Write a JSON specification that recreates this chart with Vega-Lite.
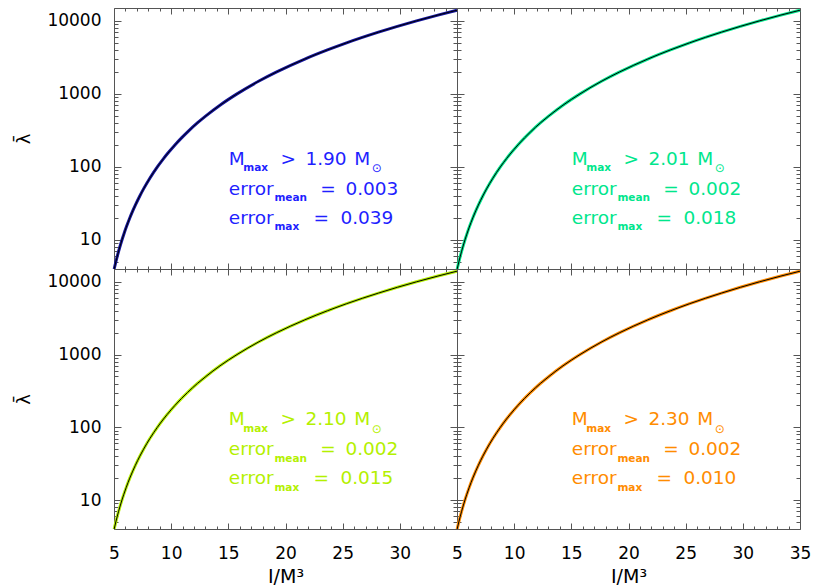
{
  "$schema": "https://vega.github.io/schema/vega-lite/v6.json",
  "padding": {"left": 15, "top": 4, "right": 0, "bottom": 0},
  "background": "white",
  "columns": 2,
  "spacing": 0,
  "bounds": "flush",
  "config": {
    "view": {"stroke": null},
    "axis": {
      "grid": false,
      "labelFont": "DejaVu Sans",
      "labelFontSize": 17,
      "labelColor": "#000000",
      "labelFlush": false,
      "labelOverlap": false,
      "domainColor": "#555555",
      "tickColor": "#555555",
      "titleFont": "DejaVu Sans",
      "titleFontWeight": "normal",
      "titleColor": "#000000"
    }
  },
  "datasets": {
    "curve": [
      {"I": 5.015, "lambda": 4},
      {"I": 5.16, "lambda": 5},
      {"I": 5.288, "lambda": 6},
      {"I": 5.403, "lambda": 7},
      {"I": 5.508, "lambda": 8},
      {"I": 5.695, "lambda": 10},
      {"I": 5.86, "lambda": 12},
      {"I": 6.076, "lambda": 15},
      {"I": 6.38, "lambda": 20},
      {"I": 6.639, "lambda": 25},
      {"I": 6.867, "lambda": 30},
      {"I": 7.256, "lambda": 40},
      {"I": 7.586, "lambda": 50},
      {"I": 8.135, "lambda": 70},
      {"I": 8.792, "lambda": 100},
      {"I": 9.332, "lambda": 130},
      {"I": 9.648, "lambda": 150},
      {"I": 10.33, "lambda": 200},
      {"I": 10.91, "lambda": 250},
      {"I": 11.42, "lambda": 300},
      {"I": 12.29, "lambda": 400},
      {"I": 13.04, "lambda": 500},
      {"I": 14.27, "lambda": 700},
      {"I": 15.76, "lambda": 1000},
      {"I": 17.68, "lambda": 1500},
      {"I": 19.23, "lambda": 2000},
      {"I": 21.69, "lambda": 3000},
      {"I": 23.67, "lambda": 4000},
      {"I": 25.34, "lambda": 5000},
      {"I": 28.13, "lambda": 7000},
      {"I": 31.46, "lambda": 10000},
      {"I": 33.33, "lambda": 12000},
      {"I": 35.0, "lambda": 14000}
    ],
    "notes": [
      {"panel": "TL", "part": "main", "I": 15.04, "lambda": 107, "text": "M"},
      {"panel": "TL", "part": "sub", "I": 16.3, "lambda": 107, "text": "max"},
      {"panel": "TL", "part": "main", "I": 19.56, "lambda": 107, "text": ">"},
      {"panel": "TL", "part": "main", "I": 21.74, "lambda": 107, "text": "1.90"},
      {"panel": "TL", "part": "main", "I": 26.02, "lambda": 107, "text": "M"},
      {"panel": "TL", "part": "sun", "I": 27.55, "lambda": 107, "text": "⊙"},
      {"panel": "TL", "part": "main", "I": 15.04, "lambda": 41.4, "text": "error"},
      {"panel": "TL", "part": "sub", "I": 19.03, "lambda": 41.4, "text": "mean"},
      {"panel": "TL", "part": "main", "I": 23.05, "lambda": 41.4, "text": "="},
      {"panel": "TL", "part": "main", "I": 25.24, "lambda": 41.4, "text": "0.003"},
      {"panel": "TL", "part": "main", "I": 15.04, "lambda": 16.6, "text": "error"},
      {"panel": "TL", "part": "sub", "I": 19.03, "lambda": 16.6, "text": "max"},
      {"panel": "TL", "part": "main", "I": 22.44, "lambda": 16.6, "text": "="},
      {"panel": "TL", "part": "main", "I": 24.8, "lambda": 16.6, "text": "0.039"},

      {"panel": "TR", "part": "main", "I": 15.04, "lambda": 107, "text": "M"},
      {"panel": "TR", "part": "sub", "I": 16.3, "lambda": 107, "text": "max"},
      {"panel": "TR", "part": "main", "I": 19.56, "lambda": 107, "text": ">"},
      {"panel": "TR", "part": "main", "I": 21.74, "lambda": 107, "text": "2.01"},
      {"panel": "TR", "part": "main", "I": 26.02, "lambda": 107, "text": "M"},
      {"panel": "TR", "part": "sun", "I": 27.55, "lambda": 107, "text": "⊙"},
      {"panel": "TR", "part": "main", "I": 15.04, "lambda": 41.4, "text": "error"},
      {"panel": "TR", "part": "sub", "I": 19.03, "lambda": 41.4, "text": "mean"},
      {"panel": "TR", "part": "main", "I": 23.05, "lambda": 41.4, "text": "="},
      {"panel": "TR", "part": "main", "I": 25.24, "lambda": 41.4, "text": "0.002"},
      {"panel": "TR", "part": "main", "I": 15.04, "lambda": 16.6, "text": "error"},
      {"panel": "TR", "part": "sub", "I": 19.03, "lambda": 16.6, "text": "max"},
      {"panel": "TR", "part": "main", "I": 22.44, "lambda": 16.6, "text": "="},
      {"panel": "TR", "part": "main", "I": 24.8, "lambda": 16.6, "text": "0.018"},

      {"panel": "BL", "part": "main", "I": 15.04, "lambda": 107, "text": "M"},
      {"panel": "BL", "part": "sub", "I": 16.3, "lambda": 107, "text": "max"},
      {"panel": "BL", "part": "main", "I": 19.56, "lambda": 107, "text": ">"},
      {"panel": "BL", "part": "main", "I": 21.74, "lambda": 107, "text": "2.10"},
      {"panel": "BL", "part": "main", "I": 26.02, "lambda": 107, "text": "M"},
      {"panel": "BL", "part": "sun", "I": 27.55, "lambda": 107, "text": "⊙"},
      {"panel": "BL", "part": "main", "I": 15.04, "lambda": 41.4, "text": "error"},
      {"panel": "BL", "part": "sub", "I": 19.03, "lambda": 41.4, "text": "mean"},
      {"panel": "BL", "part": "main", "I": 23.05, "lambda": 41.4, "text": "="},
      {"panel": "BL", "part": "main", "I": 25.24, "lambda": 41.4, "text": "0.002"},
      {"panel": "BL", "part": "main", "I": 15.04, "lambda": 16.6, "text": "error"},
      {"panel": "BL", "part": "sub", "I": 19.03, "lambda": 16.6, "text": "max"},
      {"panel": "BL", "part": "main", "I": 22.44, "lambda": 16.6, "text": "="},
      {"panel": "BL", "part": "main", "I": 24.8, "lambda": 16.6, "text": "0.015"},

      {"panel": "BR", "part": "main", "I": 15.04, "lambda": 107, "text": "M"},
      {"panel": "BR", "part": "sub", "I": 16.3, "lambda": 107, "text": "max"},
      {"panel": "BR", "part": "main", "I": 19.56, "lambda": 107, "text": ">"},
      {"panel": "BR", "part": "main", "I": 21.74, "lambda": 107, "text": "2.30"},
      {"panel": "BR", "part": "main", "I": 26.02, "lambda": 107, "text": "M"},
      {"panel": "BR", "part": "sun", "I": 27.55, "lambda": 107, "text": "⊙"},
      {"panel": "BR", "part": "main", "I": 15.04, "lambda": 41.4, "text": "error"},
      {"panel": "BR", "part": "sub", "I": 19.03, "lambda": 41.4, "text": "mean"},
      {"panel": "BR", "part": "main", "I": 23.05, "lambda": 41.4, "text": "="},
      {"panel": "BR", "part": "main", "I": 25.24, "lambda": 41.4, "text": "0.002"},
      {"panel": "BR", "part": "main", "I": 15.04, "lambda": 16.6, "text": "error"},
      {"panel": "BR", "part": "sub", "I": 19.03, "lambda": 16.6, "text": "max"},
      {"panel": "BR", "part": "main", "I": 22.44, "lambda": 16.6, "text": "="},
      {"panel": "BR", "part": "main", "I": 24.8, "lambda": 16.6, "text": "0.010"}
    ]
  },
  "concat": [
    {
      "width": 343,
      "height": 261,
      "resolve": {"axis": {"x": "independent", "y": "independent"}},
      "layer": [
        {
          "data": {"name": "curve"},
          "mark": {"type": "line", "color": "#14149c", "strokeWidth": 3, "interpolate": "monotone"},
          "encoding": {
            "x": {"field": "I", "type": "quantitative", "scale": {"domain": [5, 35], "nice": false, "zero": false},
                  "axis": {"orient": "bottom", "values": [5, 10, 15, 20, 25, 30, 35], "tickSize": -6, "labels": false, "domain": true, "title": null}},
            "y": {"field": "lambda", "type": "quantitative", "scale": {"type": "log", "domain": [4, 15000], "nice": false},
                  "axis": {"orient": "left", "values": [10, 100, 1000, 10000], "tickSize": -7, "labelPadding": 20, "format": "d", "labelBaseline": "middle", "domain": true,
                           "title": "λ̄", "titleX": -85, "titleBaseline": "alphabetic", "titleFontSize": 18}}
          }
        },
        {
          "data": {"name": "curve"},
          "mark": {"type": "line", "color": "#000000", "strokeWidth": 1, "interpolate": "monotone"},
          "encoding": {
            "x": {"field": "I", "type": "quantitative", "scale": {"domain": [5, 35], "nice": false, "zero": false},
                  "axis": {"orient": "top", "values": [5, 10, 15, 20, 25, 30, 35], "tickSize": -6, "labels": false, "domain": true, "title": null}},
            "y": {"field": "lambda", "type": "quantitative", "scale": {"type": "log", "domain": [4, 15000], "nice": false},
                  "axis": {"orient": "right", "values": [10, 100, 1000, 10000], "tickSize": -7, "labels": false, "domain": true, "title": null}}
          }
        },
        {
          "data": {"name": "notes"},
          "transform": [{"filter": "datum.panel === 'TL' && datum.part === 'main'"}],
          "mark": {"type": "text", "align": "left", "baseline": "alphabetic", "font": "DejaVu Sans", "fontSize": 18.5, "color": "#1f1fff"},
          "encoding": {
            "x": {"field": "I", "type": "quantitative", "scale": {"domain": [5, 35], "nice": false, "zero": false},
                  "axis": {"orient": "bottom", "values": [6, 7, 8, 9, 11, 12, 13, 14, 16, 17, 18, 19, 21, 22, 23, 24, 26, 27, 28, 29, 31, 32, 33, 34], "tickSize": -3, "labels": false, "domain": false, "title": null}},
            "y": {"field": "lambda", "type": "quantitative", "scale": {"type": "log", "domain": [4, 15000], "nice": false},
                  "axis": {"orient": "left", "values": [5, 6, 7, 8, 9, 20, 30, 40, 50, 60, 70, 80, 90, 200, 300, 400, 500, 600, 700, 800, 900, 2000, 3000, 4000, 5000, 6000, 7000, 8000, 9000], "tickSize": -4, "labels": false, "domain": false, "title": null}},
            "text": {"field": "text"}
          }
        },
        {
          "data": {"name": "notes"},
          "transform": [{"filter": "datum.panel === 'TL' && datum.part === 'sub'"}],
          "mark": {"type": "text", "align": "left", "baseline": "alphabetic", "font": "DejaVu Sans", "fontSize": 10.5, "fontWeight": "bold", "dy": 6.5, "color": "#1f1fff"},
          "encoding": {
            "x": {"field": "I", "type": "quantitative", "scale": {"domain": [5, 35], "nice": false, "zero": false},
                  "axis": {"orient": "top", "values": [6, 7, 8, 9, 11, 12, 13, 14, 16, 17, 18, 19, 21, 22, 23, 24, 26, 27, 28, 29, 31, 32, 33, 34], "tickSize": -3, "labels": false, "domain": false, "title": null}},
            "y": {"field": "lambda", "type": "quantitative", "scale": {"type": "log", "domain": [4, 15000], "nice": false},
                  "axis": {"orient": "right", "values": [5, 6, 7, 8, 9, 20, 30, 40, 50, 60, 70, 80, 90, 200, 300, 400, 500, 600, 700, 800, 900, 2000, 3000, 4000, 5000, 6000, 7000, 8000, 9000], "tickSize": -4, "labels": false, "domain": false, "title": null}},
            "text": {"field": "text"}
          }
        },
        {
          "data": {"name": "notes"},
          "transform": [{"filter": "datum.panel === 'TL' && datum.part === 'sun'"}],
          "mark": {"type": "text", "align": "left", "baseline": "middle", "font": "DejaVu Sans", "fontSize": 12, "dy": 3.5, "color": "#1f1fff"},
          "encoding": {
            "x": {"field": "I", "type": "quantitative", "scale": {"domain": [5, 35], "nice": false, "zero": false}, "axis": null},
            "y": {"field": "lambda", "type": "quantitative", "scale": {"type": "log", "domain": [4, 15000], "nice": false}, "axis": null},
            "text": {"field": "text"}
          }
        }
      ]
    },
    {
      "width": 343,
      "height": 261,
      "resolve": {"axis": {"x": "independent", "y": "independent"}},
      "layer": [
        {
          "data": {"name": "curve"},
          "mark": {"type": "line", "color": "#00e68c", "strokeWidth": 3, "interpolate": "monotone"},
          "encoding": {
            "x": {"field": "I", "type": "quantitative", "scale": {"domain": [5, 35], "nice": false, "zero": false},
                  "axis": {"orient": "bottom", "values": [5, 10, 15, 20, 25, 30, 35], "tickSize": -6, "labels": false, "domain": true, "title": null}},
            "y": {"field": "lambda", "type": "quantitative", "scale": {"type": "log", "domain": [4, 15000], "nice": false},
                  "axis": {"orient": "left", "values": [10, 100, 1000, 10000], "tickSize": -7, "labels": false, "domain": true, "title": null}}
          }
        },
        {
          "data": {"name": "curve"},
          "mark": {"type": "line", "color": "#000000", "strokeWidth": 1, "interpolate": "monotone"},
          "encoding": {
            "x": {"field": "I", "type": "quantitative", "scale": {"domain": [5, 35], "nice": false, "zero": false},
                  "axis": {"orient": "top", "values": [5, 10, 15, 20, 25, 30, 35], "tickSize": -6, "labels": false, "domain": true, "title": null}},
            "y": {"field": "lambda", "type": "quantitative", "scale": {"type": "log", "domain": [4, 15000], "nice": false},
                  "axis": {"orient": "right", "values": [10, 100, 1000, 10000], "tickSize": -7, "labels": false, "domain": true, "title": null}}
          }
        },
        {
          "data": {"name": "notes"},
          "transform": [{"filter": "datum.panel === 'TR' && datum.part === 'main'"}],
          "mark": {"type": "text", "align": "left", "baseline": "alphabetic", "font": "DejaVu Sans", "fontSize": 18.5, "color": "#00e68c"},
          "encoding": {
            "x": {"field": "I", "type": "quantitative", "scale": {"domain": [5, 35], "nice": false, "zero": false},
                  "axis": {"orient": "bottom", "values": [6, 7, 8, 9, 11, 12, 13, 14, 16, 17, 18, 19, 21, 22, 23, 24, 26, 27, 28, 29, 31, 32, 33, 34], "tickSize": -3, "labels": false, "domain": false, "title": null}},
            "y": {"field": "lambda", "type": "quantitative", "scale": {"type": "log", "domain": [4, 15000], "nice": false},
                  "axis": {"orient": "left", "values": [5, 6, 7, 8, 9, 20, 30, 40, 50, 60, 70, 80, 90, 200, 300, 400, 500, 600, 700, 800, 900, 2000, 3000, 4000, 5000, 6000, 7000, 8000, 9000], "tickSize": -4, "labels": false, "domain": false, "title": null}},
            "text": {"field": "text"}
          }
        },
        {
          "data": {"name": "notes"},
          "transform": [{"filter": "datum.panel === 'TR' && datum.part === 'sub'"}],
          "mark": {"type": "text", "align": "left", "baseline": "alphabetic", "font": "DejaVu Sans", "fontSize": 10.5, "fontWeight": "bold", "dy": 6.5, "color": "#00e68c"},
          "encoding": {
            "x": {"field": "I", "type": "quantitative", "scale": {"domain": [5, 35], "nice": false, "zero": false},
                  "axis": {"orient": "top", "values": [6, 7, 8, 9, 11, 12, 13, 14, 16, 17, 18, 19, 21, 22, 23, 24, 26, 27, 28, 29, 31, 32, 33, 34], "tickSize": -3, "labels": false, "domain": false, "title": null}},
            "y": {"field": "lambda", "type": "quantitative", "scale": {"type": "log", "domain": [4, 15000], "nice": false},
                  "axis": {"orient": "right", "values": [5, 6, 7, 8, 9, 20, 30, 40, 50, 60, 70, 80, 90, 200, 300, 400, 500, 600, 700, 800, 900, 2000, 3000, 4000, 5000, 6000, 7000, 8000, 9000], "tickSize": -4, "labels": false, "domain": false, "title": null}},
            "text": {"field": "text"}
          }
        },
        {
          "data": {"name": "notes"},
          "transform": [{"filter": "datum.panel === 'TR' && datum.part === 'sun'"}],
          "mark": {"type": "text", "align": "left", "baseline": "middle", "font": "DejaVu Sans", "fontSize": 12, "dy": 3.5, "color": "#00e68c"},
          "encoding": {
            "x": {"field": "I", "type": "quantitative", "scale": {"domain": [5, 35], "nice": false, "zero": false}, "axis": null},
            "y": {"field": "lambda", "type": "quantitative", "scale": {"type": "log", "domain": [4, 15000], "nice": false}, "axis": null},
            "text": {"field": "text"}
          }
        }
      ]
    },
    {
      "width": 343,
      "height": 260,
      "resolve": {"axis": {"x": "independent", "y": "independent"}},
      "layer": [
        {
          "data": {"name": "curve"},
          "mark": {"type": "line", "color": "#b4f000", "strokeWidth": 3, "interpolate": "monotone"},
          "encoding": {
            "x": {"field": "I", "type": "quantitative", "scale": {"domain": [5, 35], "nice": false, "zero": false},
                  "axis": {"orient": "bottom", "values": [5, 10, 15, 20, 25, 30, 35], "tickSize": -6, "labels": true, "labelPadding": 35, "labelBaseline": "alphabetic", "format": "d",
                           "labelExpr": "datum.value === 35 ? '' : datum.label", "domain": true,
                           "title": "I/M³", "titleY": 53, "titleBaseline": "alphabetic", "titleFontSize": 19}},
            "y": {"field": "lambda", "type": "quantitative", "scale": {"type": "log", "domain": [4, 15000], "nice": false},
                  "axis": {"orient": "left", "values": [10, 100, 1000, 10000], "tickSize": -7, "labelPadding": 20, "format": "d", "labelBaseline": "middle", "domain": true,
                           "title": "λ̄", "titleX": -85, "titleBaseline": "alphabetic", "titleFontSize": 18}}
          }
        },
        {
          "data": {"name": "curve"},
          "mark": {"type": "line", "color": "#000000", "strokeWidth": 1, "interpolate": "monotone"},
          "encoding": {
            "x": {"field": "I", "type": "quantitative", "scale": {"domain": [5, 35], "nice": false, "zero": false},
                  "axis": {"orient": "top", "values": [5, 10, 15, 20, 25, 30, 35], "tickSize": -6, "labels": false, "domain": true, "title": null}},
            "y": {"field": "lambda", "type": "quantitative", "scale": {"type": "log", "domain": [4, 15000], "nice": false},
                  "axis": {"orient": "right", "values": [10, 100, 1000, 10000], "tickSize": -7, "labels": false, "domain": true, "title": null}}
          }
        },
        {
          "data": {"name": "notes"},
          "transform": [{"filter": "datum.panel === 'BL' && datum.part === 'main'"}],
          "mark": {"type": "text", "align": "left", "baseline": "alphabetic", "font": "DejaVu Sans", "fontSize": 18.5, "color": "#b4f000"},
          "encoding": {
            "x": {"field": "I", "type": "quantitative", "scale": {"domain": [5, 35], "nice": false, "zero": false},
                  "axis": {"orient": "bottom", "values": [6, 7, 8, 9, 11, 12, 13, 14, 16, 17, 18, 19, 21, 22, 23, 24, 26, 27, 28, 29, 31, 32, 33, 34], "tickSize": -3, "labels": false, "domain": false, "title": null}},
            "y": {"field": "lambda", "type": "quantitative", "scale": {"type": "log", "domain": [4, 15000], "nice": false},
                  "axis": {"orient": "left", "values": [5, 6, 7, 8, 9, 20, 30, 40, 50, 60, 70, 80, 90, 200, 300, 400, 500, 600, 700, 800, 900, 2000, 3000, 4000, 5000, 6000, 7000, 8000, 9000], "tickSize": -4, "labels": false, "domain": false, "title": null}},
            "text": {"field": "text"}
          }
        },
        {
          "data": {"name": "notes"},
          "transform": [{"filter": "datum.panel === 'BL' && datum.part === 'sub'"}],
          "mark": {"type": "text", "align": "left", "baseline": "alphabetic", "font": "DejaVu Sans", "fontSize": 10.5, "fontWeight": "bold", "dy": 6.5, "color": "#b4f000"},
          "encoding": {
            "x": {"field": "I", "type": "quantitative", "scale": {"domain": [5, 35], "nice": false, "zero": false},
                  "axis": {"orient": "top", "values": [6, 7, 8, 9, 11, 12, 13, 14, 16, 17, 18, 19, 21, 22, 23, 24, 26, 27, 28, 29, 31, 32, 33, 34], "tickSize": -3, "labels": false, "domain": false, "title": null}},
            "y": {"field": "lambda", "type": "quantitative", "scale": {"type": "log", "domain": [4, 15000], "nice": false},
                  "axis": {"orient": "right", "values": [5, 6, 7, 8, 9, 20, 30, 40, 50, 60, 70, 80, 90, 200, 300, 400, 500, 600, 700, 800, 900, 2000, 3000, 4000, 5000, 6000, 7000, 8000, 9000], "tickSize": -4, "labels": false, "domain": false, "title": null}},
            "text": {"field": "text"}
          }
        },
        {
          "data": {"name": "notes"},
          "transform": [{"filter": "datum.panel === 'BL' && datum.part === 'sun'"}],
          "mark": {"type": "text", "align": "left", "baseline": "middle", "font": "DejaVu Sans", "fontSize": 12, "dy": 3.5, "color": "#b4f000"},
          "encoding": {
            "x": {"field": "I", "type": "quantitative", "scale": {"domain": [5, 35], "nice": false, "zero": false}, "axis": null},
            "y": {"field": "lambda", "type": "quantitative", "scale": {"type": "log", "domain": [4, 15000], "nice": false}, "axis": null},
            "text": {"field": "text"}
          }
        }
      ]
    },
    {
      "width": 343,
      "height": 260,
      "resolve": {"axis": {"x": "independent", "y": "independent"}},
      "layer": [
        {
          "data": {"name": "curve"},
          "mark": {"type": "line", "color": "#ff8c00", "strokeWidth": 3, "interpolate": "monotone"},
          "encoding": {
            "x": {"field": "I", "type": "quantitative", "scale": {"domain": [5, 35], "nice": false, "zero": false},
                  "axis": {"orient": "bottom", "values": [5, 10, 15, 20, 25, 30, 35], "tickSize": -6, "labels": true, "labelPadding": 35, "labelBaseline": "alphabetic", "format": "d", "domain": true,
                           "title": "I/M³", "titleY": 53, "titleBaseline": "alphabetic", "titleFontSize": 19}},
            "y": {"field": "lambda", "type": "quantitative", "scale": {"type": "log", "domain": [4, 15000], "nice": false},
                  "axis": {"orient": "left", "values": [10, 100, 1000, 10000], "tickSize": -7, "labels": false, "domain": true, "title": null}}
          }
        },
        {
          "data": {"name": "curve"},
          "mark": {"type": "line", "color": "#000000", "strokeWidth": 1, "interpolate": "monotone"},
          "encoding": {
            "x": {"field": "I", "type": "quantitative", "scale": {"domain": [5, 35], "nice": false, "zero": false},
                  "axis": {"orient": "top", "values": [5, 10, 15, 20, 25, 30, 35], "tickSize": -6, "labels": false, "domain": true, "title": null}},
            "y": {"field": "lambda", "type": "quantitative", "scale": {"type": "log", "domain": [4, 15000], "nice": false},
                  "axis": {"orient": "right", "values": [10, 100, 1000, 10000], "tickSize": -7, "labels": false, "domain": true, "title": null}}
          }
        },
        {
          "data": {"name": "notes"},
          "transform": [{"filter": "datum.panel === 'BR' && datum.part === 'main'"}],
          "mark": {"type": "text", "align": "left", "baseline": "alphabetic", "font": "DejaVu Sans", "fontSize": 18.5, "color": "#ff8c00"},
          "encoding": {
            "x": {"field": "I", "type": "quantitative", "scale": {"domain": [5, 35], "nice": false, "zero": false},
                  "axis": {"orient": "bottom", "values": [6, 7, 8, 9, 11, 12, 13, 14, 16, 17, 18, 19, 21, 22, 23, 24, 26, 27, 28, 29, 31, 32, 33, 34], "tickSize": -3, "labels": false, "domain": false, "title": null}},
            "y": {"field": "lambda", "type": "quantitative", "scale": {"type": "log", "domain": [4, 15000], "nice": false},
                  "axis": {"orient": "left", "values": [5, 6, 7, 8, 9, 20, 30, 40, 50, 60, 70, 80, 90, 200, 300, 400, 500, 600, 700, 800, 900, 2000, 3000, 4000, 5000, 6000, 7000, 8000, 9000], "tickSize": -4, "labels": false, "domain": false, "title": null}},
            "text": {"field": "text"}
          }
        },
        {
          "data": {"name": "notes"},
          "transform": [{"filter": "datum.panel === 'BR' && datum.part === 'sub'"}],
          "mark": {"type": "text", "align": "left", "baseline": "alphabetic", "font": "DejaVu Sans", "fontSize": 10.5, "fontWeight": "bold", "dy": 6.5, "color": "#ff8c00"},
          "encoding": {
            "x": {"field": "I", "type": "quantitative", "scale": {"domain": [5, 35], "nice": false, "zero": false},
                  "axis": {"orient": "top", "values": [6, 7, 8, 9, 11, 12, 13, 14, 16, 17, 18, 19, 21, 22, 23, 24, 26, 27, 28, 29, 31, 32, 33, 34], "tickSize": -3, "labels": false, "domain": false, "title": null}},
            "y": {"field": "lambda", "type": "quantitative", "scale": {"type": "log", "domain": [4, 15000], "nice": false},
                  "axis": {"orient": "right", "values": [5, 6, 7, 8, 9, 20, 30, 40, 50, 60, 70, 80, 90, 200, 300, 400, 500, 600, 700, 800, 900, 2000, 3000, 4000, 5000, 6000, 7000, 8000, 9000], "tickSize": -4, "labels": false, "domain": false, "title": null}},
            "text": {"field": "text"}
          }
        },
        {
          "data": {"name": "notes"},
          "transform": [{"filter": "datum.panel === 'BR' && datum.part === 'sun'"}],
          "mark": {"type": "text", "align": "left", "baseline": "middle", "font": "DejaVu Sans", "fontSize": 12, "dy": 3.5, "color": "#ff8c00"},
          "encoding": {
            "x": {"field": "I", "type": "quantitative", "scale": {"domain": [5, 35], "nice": false, "zero": false}, "axis": null},
            "y": {"field": "lambda", "type": "quantitative", "scale": {"type": "log", "domain": [4, 15000], "nice": false}, "axis": null},
            "text": {"field": "text"}
          }
        }
      ]
    }
  ]
}
